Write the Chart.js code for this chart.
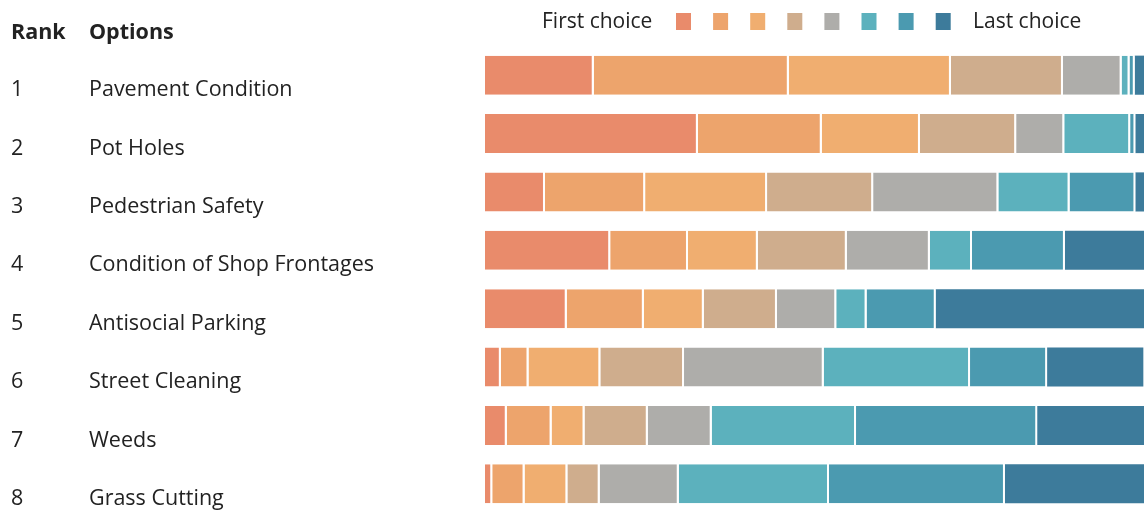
<!DOCTYPE html>
<html>
<head>
<meta charset="utf-8">
<script src="https://cdn.jsdelivr.net/npm/chart.js@4.4.1/dist/chart.umd.min.js"></script>
<style>
  html, body { margin: 0; padding: 0; background: #fff; overflow: hidden; }
  canvas { display: block; }
</style>
</head>
<body>
<canvas id="chart" width="1144" height="513"></canvas>
<script>
const ranks = ['1', '2', '3', '4', '5', '6', '7', '8'];
const options = ['Pavement Condition', 'Pot Holes', 'Pedestrian Safety', 'Condition of Shop Frontages',
    'Antisocial Parking', 'Street Cleaning', 'Weeds', 'Grass Cutting'];

// share of respondents (%) putting each option at choice 1 .. 8
const choice1 = [16.5, 32.3, 9.1, 19.0, 12.4, 2.4, 3.3, 1.1];
const choice2 = [29.6, 18.8, 15.2, 11.8, 11.7, 4.2, 6.8, 4.9];
const choice3 = [24.6, 14.9, 18.5, 10.6, 9.1, 10.9, 5.0, 6.5];
const choice4 = [17.0, 14.6, 16.1, 13.5, 11.1, 12.7, 9.6, 4.9];
const choice5 = [8.9, 7.3, 19.0, 12.6, 9.0, 21.2, 9.7, 12.0];
const choice6 = [1.2, 10.0, 10.8, 6.4, 4.6, 22.2, 21.9, 22.8];
const choice7 = [0.8, 0.8, 10.0, 14.1, 10.5, 11.7, 27.5, 26.7];
const choice8 = [1.4, 1.4, 1.4, 12.0, 31.7, 14.6, 16.2, 21.2];

const headers = ['Rank', 'Options'];
const legendFirst = 'First choice';
const legendLast = 'Last choice';

const colors = ['#e98b6b', '#eda46c', '#f0ae70', '#cfad8d', '#aeadaa', '#5cb1bd', '#4b9ab0', '#3d7b9b'];
const series = [choice1, choice2, choice3, choice4, choice5, choice6, choice7, choice8];

const FONT = '"Open Sans", "Noto Sans", sans-serif';

const tablePlugin = {
    id: 'tableText',
    afterDraw(chart) {
        const ctx = chart.ctx;
        const y = chart.scales.y;
        ctx.save();
        ctx.fillStyle = '#222';
        ctx.textBaseline = 'middle';
        ctx.textAlign = 'left';

        ctx.font = 'bold 21.5px ' + FONT;
        ctx.fillText(headers[0], 11, 33);
        ctx.fillText(headers[1], 89, 33);

        ctx.font = '21.5px ' + FONT;
        options.forEach((opt, i) => {
            const py = y.getPixelForValue(i) + 15;
            ctx.fillText(ranks[i], 11, py);
            ctx.fillText(opt, 89, py);
        });

        // legend row
        ctx.font = '21px ' + FONT;
        ctx.fillText(legendFirst, 542, 22);
        colors.forEach((c, i) => {
            ctx.fillStyle = c;
            ctx.fillRect(676 + i * 37.1, 13, 15, 17);
        });
        ctx.fillStyle = '#222';
        ctx.fillText(legendLast, 973, 22);
        ctx.restore();
    }
};

const ctx = document.getElementById('chart').getContext('2d');
new Chart(ctx, {
    type: 'bar',
    data: {
        labels: options,
        datasets: series.map((data, i) => ({
            label: 'Choice ' + (i + 1),
            data: data,
            backgroundColor: colors[i],
            borderColor: 'rgba(255, 255, 255, 0.85)',
            borderWidth: { left: 0, right: i === series.length - 1 ? 0 : 2, top: 0, bottom: 0 },
            borderSkipped: false,
            categoryPercentage: 1,
            barPercentage: 0.67,
        })),
    },
    options: {
        indexAxis: 'y',
        responsive: false,
        animation: false,
        layout: {
            padding: { left: 485, right: 0, top: 46, bottom: 0 },
        },
        plugins: {
            legend: { display: false },
            tooltip: { enabled: false },
        },
        scales: {
            x: { stacked: true, min: 0, max: 100, display: false },
            y: { stacked: true, display: false },
        },
    },
    plugins: [tablePlugin],
});
</script>
</body>
</html>
